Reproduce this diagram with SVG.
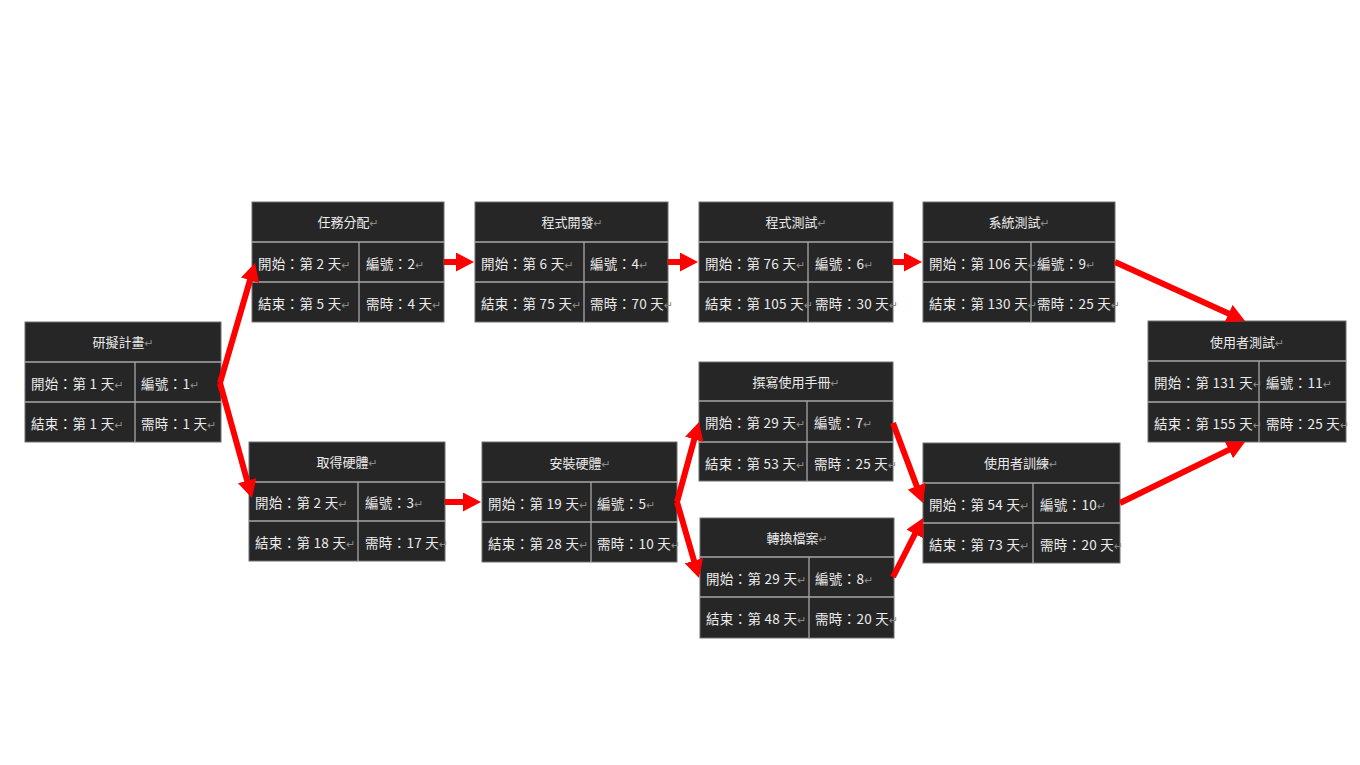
<svg xmlns="http://www.w3.org/2000/svg" width="1360" height="765" viewBox="0 0 1360 765">
<style>
.bg{fill:#ffffff}
.box{fill:#262626;stroke:#6e6e6e;stroke-width:1}
.div{stroke:#a6a6a6;stroke-width:1.3;fill:none}
text{font-family:"Noto Sans CJK TC","Noto Sans CJK SC",sans-serif;font-size:13.5px;fill:#ececec;letter-spacing:0.3px}
.t{text-anchor:middle;font-size:13px;letter-spacing:0}
.rm{fill:#8a8a8a;font-size:11px;letter-spacing:0;font-family:"DejaVu Sans","Noto Sans CJK TC",sans-serif}
.arr{stroke:#ff0000;stroke-width:6;fill:none;marker-end:url(#ah)}
</style>
<defs>
<marker id="ah" markerUnits="userSpaceOnUse" markerWidth="18" markerHeight="19" refX="4" refY="9.5" orient="auto">
<path d="M0,0 L18,9.5 L0,19 z" fill="#ff0000"/>
</marker>
</defs>
<rect class="bg" x="0" y="0" width="1360" height="765"/>

<g id="node1">
<rect class="box" x="25" y="322" width="196" height="120"/>
<path class="div" d="M25,362H221M25,402H221M135,362V442"/>
<text class="t" x="123" y="347">研擬計畫<tspan class="rm">↵</tspan></text>
<text x="31" y="389">開始：第 1 天<tspan class="rm">↵</tspan></text>
<text x="141" y="389">編號：1<tspan class="rm">↵</tspan></text>
<text x="31" y="429">結束：第 1 天<tspan class="rm">↵</tspan></text>
<text x="141" y="429">需時：1 天<tspan class="rm">↵</tspan></text>
</g>

<g id="node2">
<rect class="box" x="252" y="202" width="192" height="120"/>
<path class="div" d="M252,242H444M252,282H444M359,242V322"/>
<text class="t" x="348" y="227">任務分配<tspan class="rm">↵</tspan></text>
<text x="258" y="269">開始：第 2 天<tspan class="rm">↵</tspan></text>
<text x="366" y="269">編號：2<tspan class="rm">↵</tspan></text>
<text x="258" y="309">結束：第 5 天<tspan class="rm">↵</tspan></text>
<text x="366" y="309">需時：4 天<tspan class="rm">↵</tspan></text>
</g>

<g id="node4">
<rect class="box" x="475" y="202" width="193" height="120"/>
<path class="div" d="M475,242H668M475,282H668M584,242V322"/>
<text class="t" x="572" y="227">程式開發<tspan class="rm">↵</tspan></text>
<text x="481" y="269">開始：第 6 天<tspan class="rm">↵</tspan></text>
<text x="590" y="269">編號：4<tspan class="rm">↵</tspan></text>
<text x="481" y="309">結束：第 75 天<tspan class="rm">↵</tspan></text>
<text x="590" y="309">需時：70 天<tspan class="rm">↵</tspan></text>
</g>

<g id="node6">
<rect class="box" x="699" y="202" width="194" height="120"/>
<path class="div" d="M699,242H893M699,282H893M808,242V322"/>
<text class="t" x="796" y="227">程式測試<tspan class="rm">↵</tspan></text>
<text x="705" y="269">開始：第 76 天<tspan class="rm">↵</tspan></text>
<text x="815" y="269">編號：6<tspan class="rm">↵</tspan></text>
<text x="705" y="309">結束：第 105 天<tspan class="rm">↵</tspan></text>
<text x="815" y="309">需時：30 天<tspan class="rm">↵</tspan></text>
</g>

<g id="node9">
<rect class="box" x="923" y="202" width="192" height="120"/>
<path class="div" d="M923,242H1115M923,282H1115M1031,242V322"/>
<text class="t" x="1019" y="227">系統測試<tspan class="rm">↵</tspan></text>
<text x="929" y="269">開始：第 106 天<tspan class="rm">↵</tspan></text>
<text x="1037" y="269">編號：9<tspan class="rm">↵</tspan></text>
<text x="929" y="309">結束：第 130 天<tspan class="rm">↵</tspan></text>
<text x="1037" y="309">需時：25 天<tspan class="rm">↵</tspan></text>
</g>

<g id="node11">
<rect class="box" x="1148" y="321" width="198" height="121"/>
<path class="div" d="M1148,361H1346M1148,402H1346M1259,361V442"/>
<text class="t" x="1247" y="347">使用者測試<tspan class="rm">↵</tspan></text>
<text x="1154" y="388">開始：第 131 天<tspan class="rm">↵</tspan></text>
<text x="1266" y="388">編號：11<tspan class="rm">↵</tspan></text>
<text x="1154" y="429">結束：第 155 天<tspan class="rm">↵</tspan></text>
<text x="1266" y="429">需時：25 天<tspan class="rm">↵</tspan></text>
</g>

<g id="node3">
<rect class="box" x="249" y="442" width="196" height="119"/>
<path class="div" d="M249,482H445M249,521H445M358,482V561"/>
<text class="t" x="347" y="467">取得硬體<tspan class="rm">↵</tspan></text>
<text x="255" y="508">開始：第 2 天<tspan class="rm">↵</tspan></text>
<text x="365" y="508">編號：3<tspan class="rm">↵</tspan></text>
<text x="255" y="548">結束：第 18 天<tspan class="rm">↵</tspan></text>
<text x="365" y="548">需時：17 天<tspan class="rm">↵</tspan></text>
</g>

<g id="node5">
<rect class="box" x="482" y="442" width="195" height="120"/>
<path class="div" d="M482,482H677M482,522H677M591,482V562"/>
<text class="t" x="580" y="468">安裝硬體<tspan class="rm">↵</tspan></text>
<text x="488" y="509">開始：第 19 天<tspan class="rm">↵</tspan></text>
<text x="597" y="509">編號：5<tspan class="rm">↵</tspan></text>
<text x="488" y="549">結束：第 28 天<tspan class="rm">↵</tspan></text>
<text x="597" y="549">需時：10 天<tspan class="rm">↵</tspan></text>
</g>

<g id="node7">
<rect class="box" x="699" y="362" width="194" height="119"/>
<path class="div" d="M699,401H893M699,442H893M807,401V481"/>
<text class="t" x="796" y="387">撰寫使用手冊<tspan class="rm">↵</tspan></text>
<text x="705" y="428">開始：第 29 天<tspan class="rm">↵</tspan></text>
<text x="814" y="428">編號：7<tspan class="rm">↵</tspan></text>
<text x="705" y="469">結束：第 53 天<tspan class="rm">↵</tspan></text>
<text x="814" y="469">需時：25 天<tspan class="rm">↵</tspan></text>
</g>

<g id="node8">
<rect class="box" x="700" y="518" width="194" height="120"/>
<path class="div" d="M700,557H894M700,597H894M809,557V638"/>
<text class="t" x="797" y="543">轉換檔案<tspan class="rm">↵</tspan></text>
<text x="706" y="584">開始：第 29 天<tspan class="rm">↵</tspan></text>
<text x="815" y="584">編號：8<tspan class="rm">↵</tspan></text>
<text x="706" y="624">結束：第 48 天<tspan class="rm">↵</tspan></text>
<text x="815" y="624">需時：20 天<tspan class="rm">↵</tspan></text>
</g>

<g id="node10">
<rect class="box" x="923" y="443" width="197" height="120"/>
<path class="div" d="M923,483H1120M923,523H1120M1033,483V563"/>
<text class="t" x="1021" y="468">使用者訓練<tspan class="rm">↵</tspan></text>
<text x="929" y="510">開始：第 54 天<tspan class="rm">↵</tspan></text>
<text x="1040" y="510">編號：10<tspan class="rm">↵</tspan></text>
<text x="929" y="550">結束：第 73 天<tspan class="rm">↵</tspan></text>
<text x="1040" y="550">需時：20 天<tspan class="rm">↵</tspan></text>
</g>

<g id="connectors">
<path class="arr" d="M220,383L251.1,276.4"/>
<path class="arr" d="M220,383L248.2,484.5"/>
<path class="arr" d="M444,262L460,262"/>
<path class="arr" d="M668,262L684,262"/>
<path class="arr" d="M893,262L908,262"/>
<path class="arr" d="M1115,262L1232.3,315.2"/>
<path class="arr" d="M445,502L467,502"/>
<path class="arr" d="M677,502L695.3,435.5"/>
<path class="arr" d="M677,502L695.1,564.5"/>
<path class="arr" d="M893,423L918.1,489.9"/>
<path class="arr" d="M893,577L916.7,530.5"/>
<path class="arr" d="M1120,503L1232.4,448.1"/>
</g>
</svg>
